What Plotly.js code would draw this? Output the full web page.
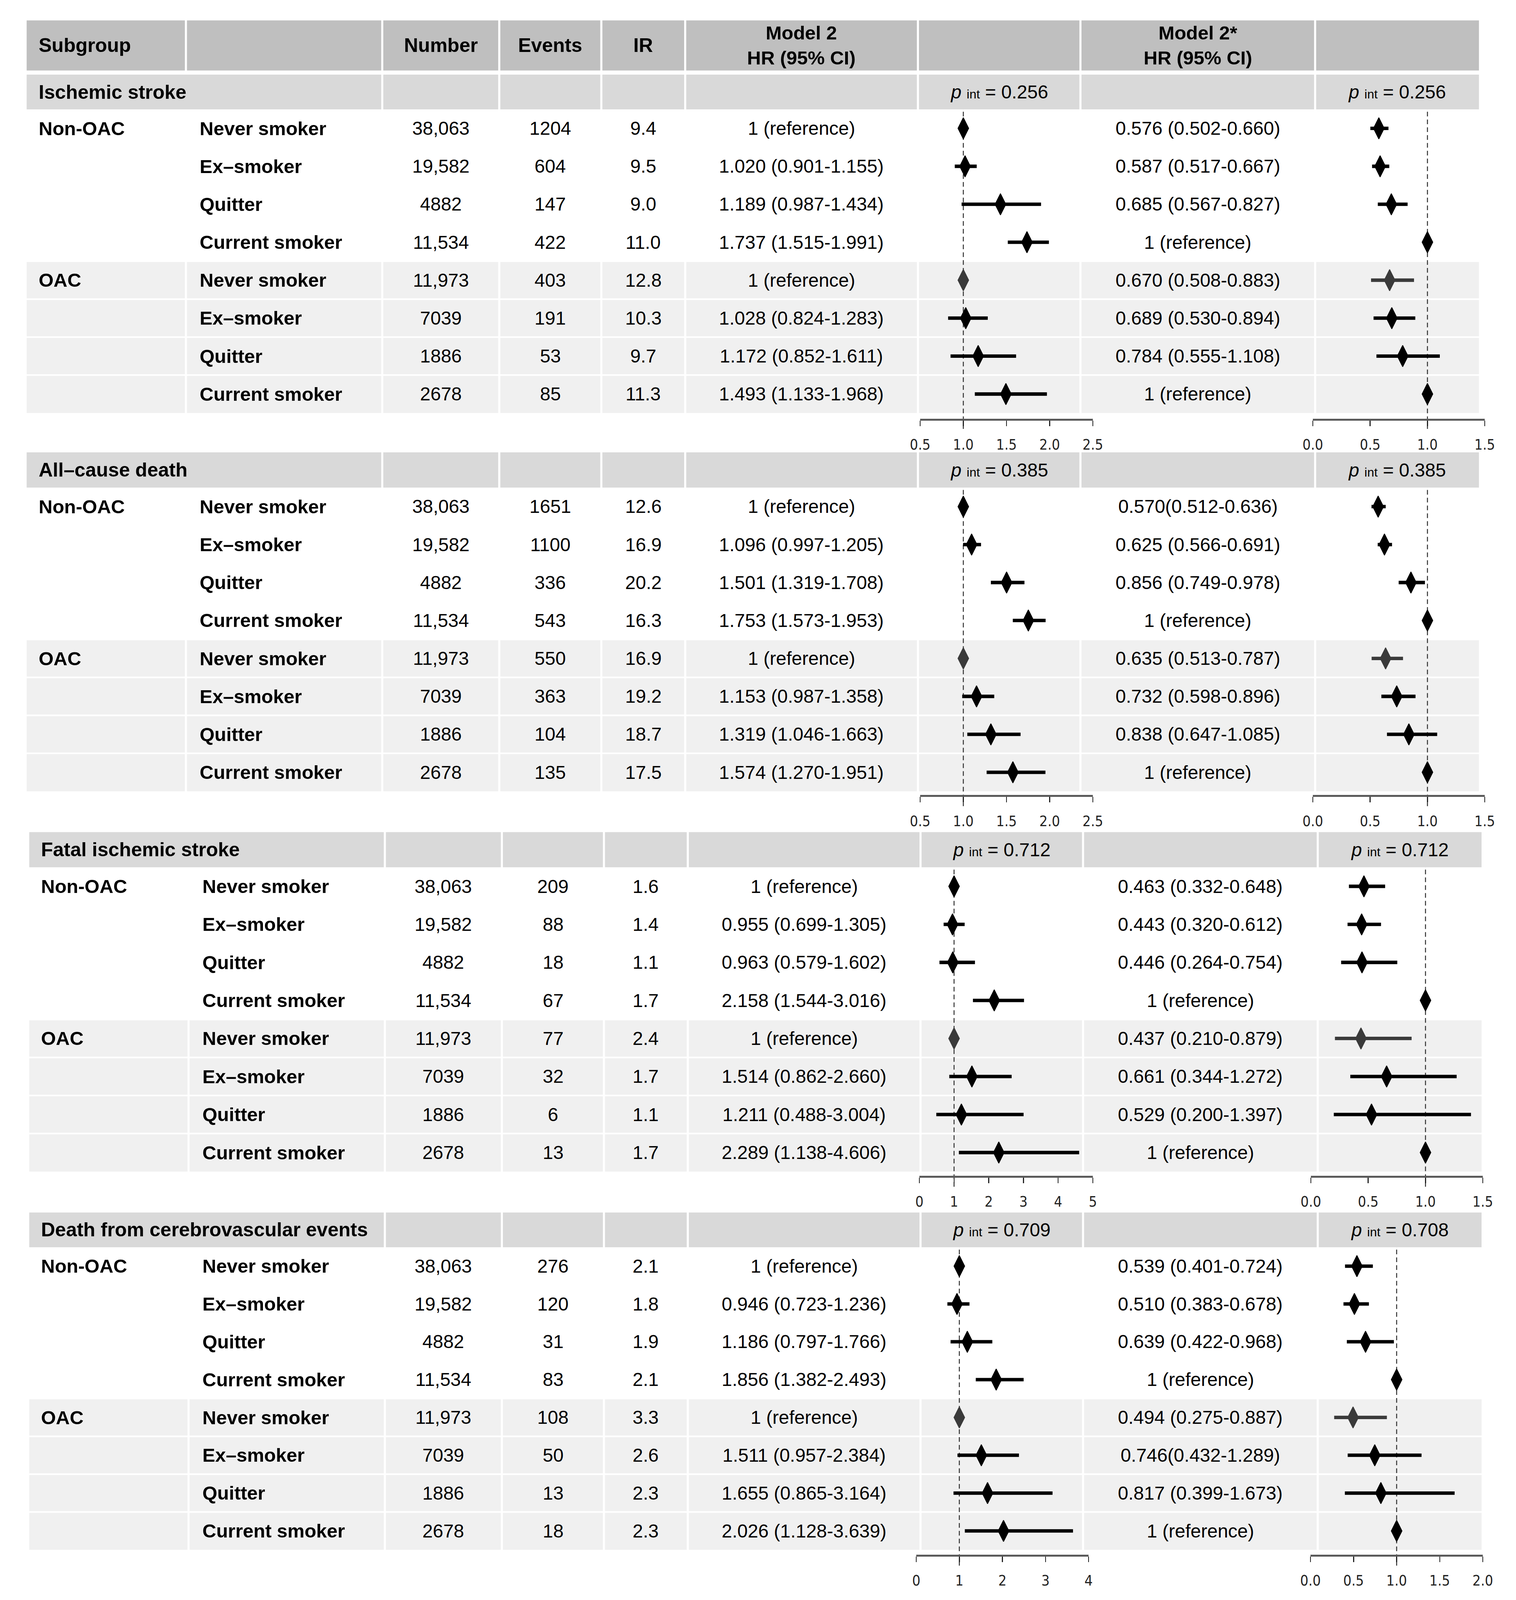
<!DOCTYPE html>
<html><head><meta charset="utf-8">
<script src="https://cdn.plot.ly/plotly-3.0.1.min.js"></script>
<style>html,body{margin:0;padding:0;background:#fff;overflow:hidden}</style>
</head><body><div id="chart"></div>
<script>
// ================= DATA =================
const outcomes = ['Ischemic stroke', 'All–cause death', 'Fatal ischemic stroke', 'Death from cerebrovascular events'];
const groups = ['Non-OAC', '', '', '', 'OAC', '', '', ''];
const statuses = ['Never smoker', 'Ex–smoker', 'Quitter', 'Current smoker', 'Never smoker', 'Ex–smoker', 'Quitter', 'Current smoker'];
const numbers = ['38,063', '19,582', '4882', '11,534', '11,973', '7039', '1886', '2678'];

const events = [
  ['1204', '604', '147', '422', '403', '191', '53', '85'],
  ['1651', '1100', '336', '543', '550', '363', '104', '135'],
  ['209', '88', '18', '67', '77', '32', '6', '13'],
  ['276', '120', '31', '83', '108', '50', '13', '18']
];
const ir = [
  ['9.4', '9.5', '9.0', '11.0', '12.8', '10.3', '9.7', '11.3'],
  ['12.6', '16.9', '20.2', '16.3', '16.9', '19.2', '18.7', '17.5'],
  ['1.6', '1.4', '1.1', '1.7', '2.4', '1.7', '1.1', '1.7'],
  ['2.1', '1.8', '1.9', '2.1', '3.3', '2.6', '2.3', '2.3']
];
const m2Text = [
  ['1 (reference)', '1.020 (0.901-1.155)', '1.189 (0.987-1.434)', '1.737 (1.515-1.991)', '1 (reference)', '1.028 (0.824-1.283)', '1.172 (0.852-1.611)', '1.493 (1.133-1.968)'],
  ['1 (reference)', '1.096 (0.997-1.205)', '1.501 (1.319-1.708)', '1.753 (1.573-1.953)', '1 (reference)', '1.153 (0.987-1.358)', '1.319 (1.046-1.663)', '1.574 (1.270-1.951)'],
  ['1 (reference)', '0.955 (0.699-1.305)', '0.963 (0.579-1.602)', '2.158 (1.544-3.016)', '1 (reference)', '1.514 (0.862-2.660)', '1.211 (0.488-3.004)', '2.289 (1.138-4.606)'],
  ['1 (reference)', '0.946 (0.723-1.236)', '1.186 (0.797-1.766)', '1.856 (1.382-2.493)', '1 (reference)', '1.511 (0.957-2.384)', '1.655 (0.865-3.164)', '2.026 (1.128-3.639)']
];
const m2sText = [
  ['0.576 (0.502-0.660)', '0.587 (0.517-0.667)', '0.685 (0.567-0.827)', '1 (reference)', '0.670 (0.508-0.883)', '0.689 (0.530-0.894)', '0.784 (0.555-1.108)', '1 (reference)'],
  ['0.570(0.512-0.636)', '0.625 (0.566-0.691)', '0.856 (0.749-0.978)', '1 (reference)', '0.635 (0.513-0.787)', '0.732 (0.598-0.896)', '0.838 (0.647-1.085)', '1 (reference)'],
  ['0.463 (0.332-0.648)', '0.443 (0.320-0.612)', '0.446 (0.264-0.754)', '1 (reference)', '0.437 (0.210-0.879)', '0.661 (0.344-1.272)', '0.529 (0.200-1.397)', '1 (reference)'],
  ['0.539 (0.401-0.724)', '0.510 (0.383-0.678)', '0.639 (0.422-0.968)', '1 (reference)', '0.494 (0.275-0.887)', '0.746(0.432-1.289)', '0.817 (0.399-1.673)', '1 (reference)']
];
// plotted values (as drawn in the figure)
const m2Hr = [
  [1, 1.020, 1.43, 1.737, 1, 1.028, 1.172, 1.493],
  [1, 1.096, 1.501, 1.753, 1, 1.153, 1.319, 1.574],
  [1, 0.955, 0.963, 2.158, 1, 1.514, 1.211, 2.289],
  [1, 0.946, 1.186, 1.856, 1, 1.511, 1.655, 2.026]
];
const m2Lo = [
  [1, 0.901, 0.98, 1.515, 1, 0.824, 0.852, 1.133],
  [1, 0.997, 1.319, 1.573, 1, 0.987, 1.046, 1.270],
  [1, 0.699, 0.579, 1.544, 1, 0.862, 0.488, 1.138],
  [1, 0.723, 0.797, 1.382, 1, 0.957, 0.865, 1.128]
];
const m2Hi = [
  [1, 1.155, 1.90, 1.991, 1, 1.283, 1.611, 1.968],
  [1, 1.205, 1.708, 1.953, 1, 1.358, 1.663, 1.951],
  [1, 1.305, 1.602, 3.016, 1, 2.660, 3.004, 4.606],
  [1, 1.236, 1.766, 2.493, 1, 2.384, 3.164, 3.639]
];
const m2sHr = [
  [0.576, 0.587, 0.685, 1, 0.670, 0.689, 0.784, 1],
  [0.570, 0.625, 0.856, 1, 0.635, 0.732, 0.838, 1],
  [0.463, 0.443, 0.446, 1, 0.437, 0.661, 0.529, 1],
  [0.539, 0.510, 0.639, 1, 0.494, 0.746, 0.817, 1]
];
const m2sLo = [
  [0.502, 0.517, 0.567, 1, 0.508, 0.530, 0.555, 1],
  [0.512, 0.566, 0.749, 1, 0.513, 0.598, 0.647, 1],
  [0.332, 0.320, 0.264, 1, 0.210, 0.344, 0.200, 1],
  [0.401, 0.383, 0.422, 1, 0.275, 0.432, 0.399, 1]
];
const m2sHi = [
  [0.660, 0.667, 0.827, 1, 0.883, 0.894, 1.108, 1],
  [0.636, 0.691, 0.978, 1, 0.787, 0.896, 1.085, 1],
  [0.648, 0.612, 0.754, 1, 0.879, 1.272, 1.397, 1],
  [0.724, 0.678, 0.968, 1, 0.887, 1.289, 1.673, 1]
];
const pInt2 = ['0.256', '0.385', '0.712', '0.709'];
const pInt2s = ['0.256', '0.385', '0.712', '0.708'];

const m2TickVals = [[0.5, 1, 1.5, 2, 2.5], [0.5, 1, 1.5, 2, 2.5], [0, 1, 2, 3, 4, 5], [0, 1, 2, 3, 4]];
const m2TickText = [['0.5', '1.0', '1.5', '2.0', '2.5'], ['0.5', '1.0', '1.5', '2.0', '2.5'], ['0', '1', '2', '3', '4', '5'], ['0', '1', '2', '3', '4']];
const m2sTickVals = [[0, 0.5, 1, 1.5], [0, 0.5, 1, 1.5], [0, 0.5, 1, 1.5], [0, 0.5, 1, 1.5, 2]];
const m2sTickText = [['0.0', '0.5', '1.0', '1.5'], ['0.0', '0.5', '1.0', '1.5'], ['0.0', '0.5', '1.0', '1.5'], ['0.0', '0.5', '1.0', '1.5', '2.0']];

// ================= LAYOUT GEOMETRY =================
const W = 3880, H0 = 5208;
// fit the whole table into the visible window height (the picture is taken of the window)
const VH = (window.innerHeight && window.innerHeight < H0) ? window.innerHeight : H0;
const SY = VH / H0;
const FS = Math.min(1, 0.45 + 0.55 * SY);          // font/marker scale when squeezed
const S = W / 1166;
const X = d => d * S;                // display units -> px (horizontal)
const Y = d => d * S * SY;           // display units -> px (vertical)
const px = v => v / W, py = v => 1 - v / VH;
const FONT = 'Liberation Sans, Arial, Helvetica, sans-serif';
const NARROW = 'Liberation Sans Narrow, DejaVu Sans Condensed, Arial Narrow, sans-serif';

const colEdges = [20.5, 143, 294, 384, 462.5, 527, 706, 831, 1011.5, 1137.5];
const headTop = 20, headBot = 69;
const secTop = [73, 442.5, 814, 1186];
const secBot = [107, 477, 848.4, 1220];
const blockBot = [404, 774, 1146, 1516];
const axisY = [409.6, 777.7, 1150, 1520.6];
const secDx = [0, 0, 2, 2];
const p1Dom = [[2355, 2797], [2355, 2797], [2353, 2797], [2345, 2786]];
const p2Dom = [[3360, 3800], [3360, 3800], [3355, 3795], [3354, 3795]];
const p1Range = [[0.5, 2.5], [0.5, 2.5], [0, 5], [0, 4]];
const p2Range = [[0, 1.5], [0, 1.5], [0, 1.5], [0, 2]];

const HEAD_BG = '#bfbfbf', SEC_BG = '#d9d9d9', OAC_BG = '#f0f0f0';
const g = 0.8;

const shapes = [], annotations = [], data = [];
const layout = {
  width: W, height: VH, margin: {l: 0, r: 0, t: 0, b: 0},
  paper_bgcolor: '#ffffff', plot_bgcolor: 'rgba(0,0,0,0)',
  showlegend: false, font: {family: FONT, color: '#111'},
  shapes, annotations
};

function rectD(x0, x1, y0, y1, color) {
  shapes.push({type: 'rect', xref: 'paper', yref: 'paper',
    x0: px(X(x0)), x1: px(X(x1)), y0: py(Y(y1)), y1: py(Y(y0)),
    fillcolor: color, line: {width: 0}, layer: 'below'});
}
function textD(txt, x, y, anchor, size, bold) {
  annotations.push({xref: 'paper', yref: 'paper', x: px(X(x)), y: py(Y(y)),
    text: bold ? '<b>' + txt + '</b>' : txt, showarrow: false,
    xanchor: anchor, yanchor: 'middle', align: 'center',
    font: {family: FONT, size: Math.round(size * FS), color: '#000'}});
}
const an = n => n === 1 ? '' : String(n);

// header row
for (let j = 0; j < 9; j++) {
  rectD(j === 0 ? colEdges[0] : colEdges[j] + g, j === 8 ? colEdges[9] : colEdges[j + 1] - g, headTop, headBot, HEAD_BG);
}
const hy = (headTop + headBot) / 2;
textD('Subgroup', 29, hy, 'left', 57, true);
textD('Number', (colEdges[2] + colEdges[3]) / 2, hy, 'center', 57, true);
textD('Events', (colEdges[3] + colEdges[4]) / 2, hy, 'center', 57, true);
textD('IR', (colEdges[4] + colEdges[5]) / 2, hy, 'center', 57, true);
textD('Model 2<br>HR (95% CI)', (colEdges[5] + colEdges[6]) / 2, hy, 'center', 56, true);
textD('Model 2*<br>HR (95% CI)', (colEdges[7] + colEdges[8]) / 2, hy, 'center', 56, true);

function addForest(n, hr, lo, hi, dom, range, tv, tt, s, rowH) {
  const black = [0, 1, 2, 3, 5, 6, 7], grey = [4];
  [[black, '#000000'], [grey, '#3a3a3a']].forEach(([idx, col]) => {
    data.push({type: 'scatter', mode: 'markers', xaxis: 'x' + an(n), yaxis: 'y' + an(n),
      x: idx.map(i => hr[i]), y: idx,
      marker: {symbol: 'diamond-tall', size: Math.round(44 * FS), color: col, line: {width: 2, color: col}},
      error_x: {type: 'data', symmetric: false, array: idx.map(i => hi[i] - hr[i]),
        arrayminus: idx.map(i => hr[i] - lo[i]), thickness: 10 * FS, width: 0, color: col},
      cliponaxis: false, hoverinfo: 'skip'});
  });
  layout['xaxis' + an(n)] = {domain: [px(dom[0]), px(dom[1])], range: range, anchor: 'y' + an(n),
    tickvals: tv, ticktext: tt, ticks: 'outside', ticklen: Math.round(18 * SY), tickwidth: 2.5, tickcolor: '#222',
    showline: true, linecolor: '#5a5a5a', linewidth: 5, showgrid: false, zeroline: false,
    tickfont: {family: NARROW, size: Math.round(42 * FS), color: '#222'},
    ticklabelstandoff: Math.round(20 * SY), fixedrange: true};
  layout['yaxis' + an(n)] = {domain: [py(Y(axisY[s])), py(Y(secBot[s]))],
    range: [(axisY[s] - secBot[s]) / rowH - 0.5, -0.5], visible: false, showgrid: false,
    zeroline: false, anchor: 'x' + an(n), fixedrange: true};
  shapes.push({type: 'line', xref: 'x' + an(n), yref: 'paper', x0: 1, x1: 1,
    y0: py(Y(secBot[s]) + 6), y1: py(Y(axisY[s]) + 36 * SY),
    line: {color: '#333', width: 2.5, dash: '12px,8px'}, layer: 'below'});
}

for (let s = 0; s < 4; s++) {
  const dx = secDx[s];
  const e = colEdges.map(v => v + dx);
  const rowH = (blockBot[s] - secBot[s]) / 8;
  const segs = [[0, 2], [2, 3], [3, 4], [4, 5], [5, 6], [6, 7], [7, 8], [8, 9]];
  segs.forEach(([a, b]) => rectD(a === 0 ? e[0] : e[a] + g, b === 9 ? e[9] : e[b] - g, secTop[s], secBot[s], SEC_BG));
  const sy = (secTop[s] + secBot[s]) / 2;
  textD(outcomes[s], 29 + dx, sy, 'left', 57, true);
  const sub = '<span style="font-size:' + Math.round(36 * FS) + 'px">int</span>';
  textD('<i>p</i> ' + sub + ' = ' + pInt2[s], (e[6] + e[7]) / 2, sy, 'center', 54, false);
  textD('<i>p</i> ' + sub + ' = ' + pInt2s[s], (e[8] + e[9]) / 2, sy, 'center', 54, false);
  for (let i = 4; i < 8; i++) {
    const y0 = secBot[s] + i * rowH + g, y1 = secBot[s] + (i + 1) * rowH - (i === 7 ? 0 : g);
    for (let j = 0; j < 9; j++) rectD(j === 0 ? e[0] : e[j] + g, j === 8 ? e[9] : e[j + 1] - g, y0, y1, OAC_BG);
  }
  for (let i = 0; i < 8; i++) {
    const cy = secBot[s] + (i + 0.5) * rowH;
    if (groups[i]) textD(groups[i], 29 + dx, cy, 'left', 56, true);
    textD(statuses[i], 153 + dx, cy, 'left', 56, true);
    textD(numbers[i], (e[2] + e[3]) / 2, cy, 'center', 54, false);
    textD(events[s][i], (e[3] + e[4]) / 2, cy, 'center', 54, false);
    textD(ir[s][i], (e[4] + e[5]) / 2, cy, 'center', 54, false);
    textD(m2Text[s][i], (e[5] + e[6]) / 2, cy, 'center', 54, false);
    textD(m2sText[s][i], (e[7] + e[8]) / 2, cy, 'center', 54, false);
  }
  addForest(2 * s + 1, m2Hr[s], m2Lo[s], m2Hi[s], p1Dom[s], p1Range[s], m2TickVals[s], m2TickText[s], s, rowH);
  addForest(2 * s + 2, m2sHr[s], m2sLo[s], m2sHi[s], p2Dom[s], p2Range[s], m2sTickVals[s], m2sTickText[s], s, rowH);
}

const div = document.getElementById('chart');
div.style.width = W + 'px';
div.style.height = VH + 'px';
Plotly.newPlot(div, data, layout, {staticPlot: true, displayModeBar: false});
</script>
</body></html>
